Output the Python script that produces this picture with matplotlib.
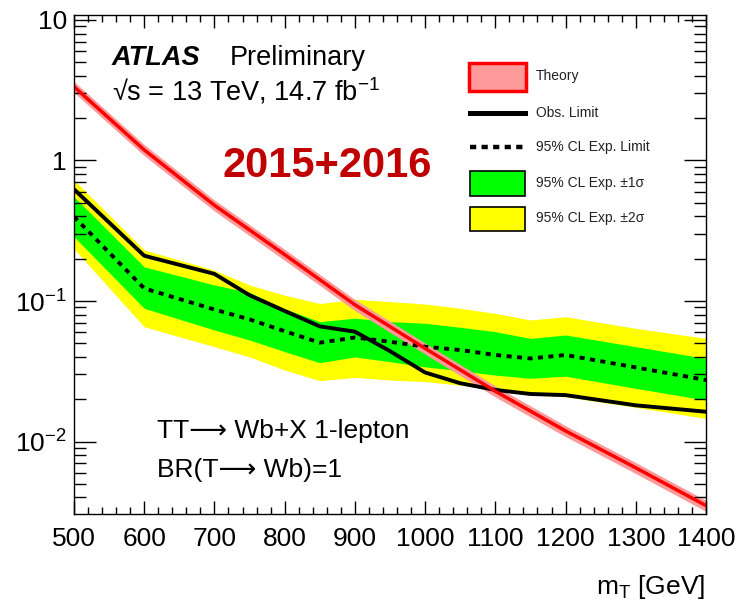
import matplotlib
matplotlib.use('Agg')
import matplotlib.pyplot as plt
from matplotlib.patches import Rectangle
from matplotlib.lines import Line2D
from matplotlib.ticker import MultipleLocator, FixedLocator, FixedFormatter, LogLocator, NullFormatter

# 数据
mass = [500, 600, 700, 750, 800, 850, 900, 950, 1000, 1050, 1100, 1150, 1200, 1300, 1400]
obs_limit = [0.624, 0.210, 0.156, 0.110, 0.085, 0.066, 0.0605, 0.044, 0.031, 0.026, 0.0233, 0.0218, 0.0214, 0.0181, 0.0163]
exp_limit = [0.398, 0.123, 0.087, 0.074, 0.061, 0.0505, 0.055, 0.0513, 0.0473, 0.0448, 0.0413, 0.039, 0.0413, 0.0337, 0.0274]
exp_up1 = [0.552, 0.175, 0.130, 0.115, 0.088, 0.0713, 0.0755, 0.0713, 0.0694, 0.065, 0.0605, 0.0542, 0.0573, 0.0473, 0.039]
exp_dn1 = [0.287, 0.0887, 0.0622, 0.0528, 0.0436, 0.0364, 0.040, 0.037, 0.034, 0.0319, 0.0297, 0.0282, 0.0292, 0.0239, 0.0197]
exp_up2 = [0.727, 0.231, 0.166, 0.130, 0.110, 0.096, 0.1028, 0.099, 0.0952, 0.0887, 0.0817, 0.0733, 0.0773, 0.0639, 0.0542]
exp_dn2 = [0.235, 0.0656, 0.0473, 0.040, 0.0323, 0.0271, 0.0286, 0.0274, 0.0267, 0.0252, 0.0233, 0.0215, 0.0208, 0.0175, 0.0146]

theory_mass = [500, 600, 700, 800, 900, 1000, 1100, 1200, 1300, 1400]
theory_xsec = [3.35, 1.19, 0.48, 0.214, 0.094, 0.046, 0.0228, 0.0119, 0.0065, 0.0035]
theory_unc = [0.09, 0.09, 0.09, 0.09, 0.09, 0.09, 0.09, 0.09, 0.09, 0.09]  # 相对误差

y_ticks = [0.01, 0.1, 1, 10]
y_ticklabels = ['$10^{-2}$', '$10^{-1}$', '1', '10']

plt.rcParams['font.family'] = ['Liberation Sans', 'DejaVu Sans']
plt.rcParams['mathtext.fontset'] = 'custom'
plt.rcParams['mathtext.rm'] = 'Liberation Sans'
plt.rcParams['mathtext.it'] = 'Liberation Sans:italic'
plt.rcParams['mathtext.bf'] = 'Liberation Sans:bold'
plt.rcParams['mathtext.default'] = 'regular'

W, H = 739, 603


def fx(x):
    return x / W


def fy(y):
    return 1 - y / H


fig = plt.figure(figsize=(W / 100, H / 100), dpi=100)
ax = fig.add_axes([fx(74), fy(514), (706 - 74) / W, (514 - 15) / H])

# 误差带
th_up = [v * (1 + u) for v, u in zip(theory_xsec, theory_unc)]
th_dn = [v * (1 - u) for v, u in zip(theory_xsec, theory_unc)]
ax.fill_between(mass, exp_dn2, exp_up2, color='#ffff00', lw=0)
ax.fill_between(mass, exp_dn1, exp_up1, color='#00ff00', lw=0)
ax.plot(mass, exp_limit, color='black', lw=2.8, dashes=(1.3, 1.4))
ax.plot(mass, obs_limit, color='black', lw=2.8)
ax.fill_between(theory_mass, th_dn, th_up, color='#ff9a9a', lw=0)
ax.plot(theory_mass, theory_xsec, color='#ff0000', lw=2.5)

ax.set_yscale('log')
ax.set_xlim(500, 1400)
ax.set_ylim(3.05e-3, 10.85)

ax.xaxis.set_major_locator(MultipleLocator(100))
ax.xaxis.set_minor_locator(MultipleLocator(20))
ax.yaxis.set_major_locator(FixedLocator(y_ticks))
ax.yaxis.set_major_formatter(FixedFormatter(y_ticklabels))
ax.yaxis.set_minor_locator(LogLocator(base=10, subs=range(2, 10)))
ax.yaxis.set_minor_formatter(NullFormatter())

ax.tick_params(axis='both', which='both', direction='in', top=True, right=True, width=1.0)
ax.tick_params(axis='x', which='major', length=9.5, pad=9, labelsize=19)
ax.tick_params(axis='x', which='minor', length=5)
ax.tick_params(axis='y', which='major', length=16, pad=5, labelsize=19)
ax.tick_params(axis='y', which='minor', length=8.5)
for s in ax.spines.values():
    s.set_linewidth(1.0)

# 文字
fig.text(fx(112), fy(65), 'ATLAS', fontsize=19.5, fontweight='bold', style='italic', va='baseline')
fig.text(fx(230), fy(65), 'Preliminary', fontsize=19.5, va='baseline')
fig.text(fx(112), fy(101), '√s = 13 TeV, 14.7 fb$^{-1}$', fontsize=19.5, va='baseline')
fig.text(fx(222), fy(177), '2015+2016', fontsize=30, fontweight='bold', color='#c00000', va='baseline')
fig.text(fx(157), fy(438), 'TT⟶ Wb+X 1-lepton', fontsize=19, va='baseline')
fig.text(fx(157), fy(477), 'BR(T⟶ Wb)=1', fontsize=19, va='baseline')
fig.text(fx(705), fy(594), 'm$_{T}$ [GeV]', fontsize=19, ha='right', va='baseline')

# 图例（手动绘制）
fig.add_artist(Rectangle((fx(469), fy(91)), 57 / W, 28 / H, transform=fig.transFigure,
                         facecolor='#ff9a9a', edgecolor='#ff0000', lw=2.5))
fig.add_artist(Line2D([fx(470), fx(525)], [fy(113), fy(113)], transform=fig.transFigure,
                      color='black', lw=3.6))
fig.add_artist(Line2D([fx(470), fx(525)], [fy(147), fy(147)], transform=fig.transFigure,
                      color='black', lw=3.2, dashes=(1.4, 1.2)))
fig.add_artist(Rectangle((fx(470), fy(196)), 55 / W, 25 / H, transform=fig.transFigure,
                         facecolor='#00ff00', edgecolor='black', lw=1.2))
fig.add_artist(Rectangle((fx(470), fy(231)), 55 / W, 24 / H, transform=fig.transFigure,
                         facecolor='#ffff00', edgecolor='black', lw=1.2))

leg_texts = ['Theory', 'Obs. Limit', '95% CL Exp. Limit', '95% CL Exp. ±1σ', '95% CL Exp. ±2σ']
leg_y = [76, 113, 147, 183, 218]
for t, y in zip(leg_texts, leg_y):
    fig.text(fx(536), fy(y), t, fontsize=10, va='center', color='#222222')

fig.savefig('out.png', dpi=100)
